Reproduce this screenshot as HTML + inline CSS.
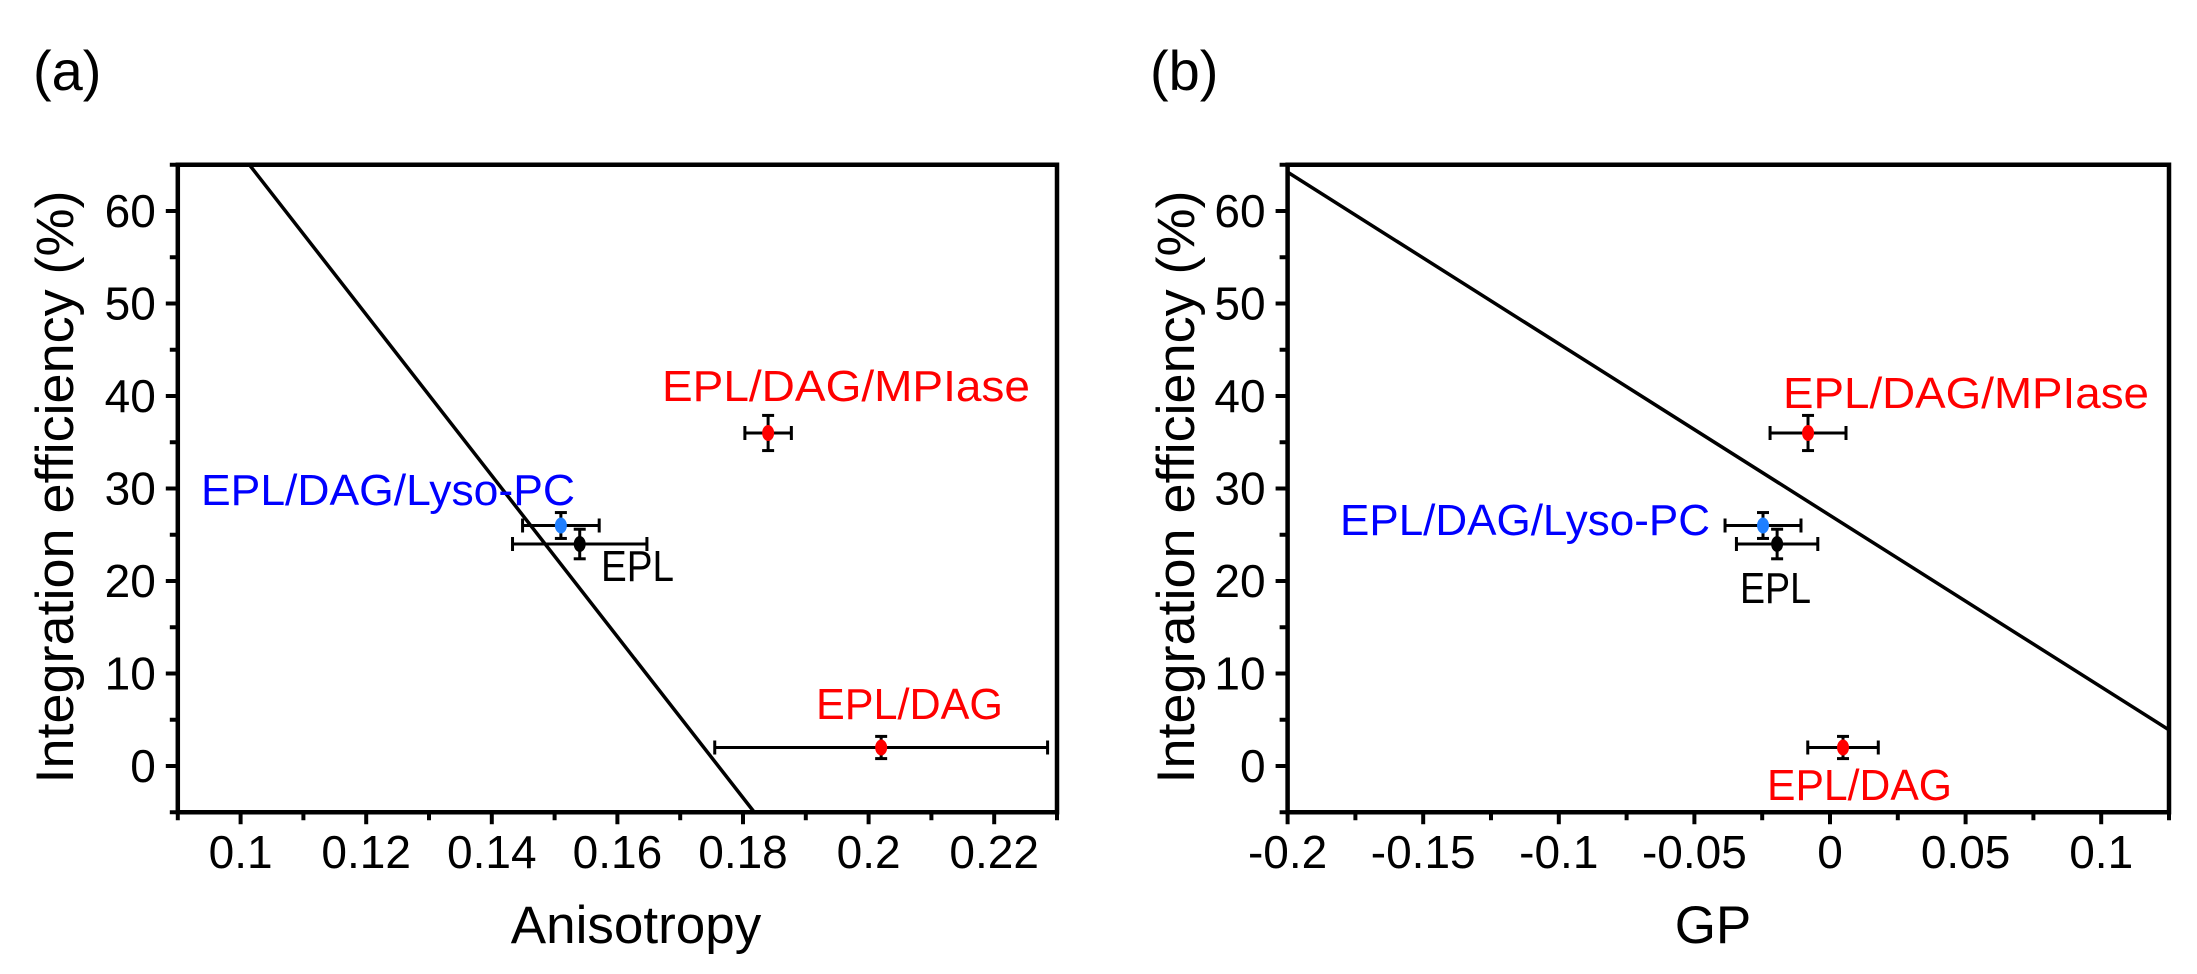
<!DOCTYPE html>
<html><head><meta charset="utf-8"><style>
html,body{margin:0;padding:0;background:#fff;}
svg{display:block;font-family:"Liberation Sans",sans-serif;}
</style></head><body>
<svg id="fig" width="2197" height="974" viewBox="0 0 2197 974" xmlns="http://www.w3.org/2000/svg">
<text x="33" y="90" font-size="56">(a)</text>
<text x="1150" y="90" font-size="56">(b)</text>
<g id="pa"></g>
<g id="pb"></g>
</svg>
<script>
// ---- Panel A data ----
const aNames = ["EPL/DAG/Lyso-PC", "EPL", "EPL/DAG/MPIase", "EPL/DAG"];
const aX = [0.151, 0.154, 0.184, 0.202];
const aY = [26, 24, 36, 2];
const aXerr = [0.0061, 0.0107, 0.0037, 0.0265];
const aYerr = [1.4, 1.6, 1.9, 1.2];
const aColors = ["#1f7fff", "#000000", "#ff0000", "#ff0000"];
const aLineX = [0.1014, 0.1818];
const aLineY = [65, -5];
const aTicks = [0.1, 0.12, 0.14, 0.16, 0.18, 0.2, 0.22];
const aTickLabels = ["0.1", "0.12", "0.14", "0.16", "0.18", "0.2", "0.22"];
const aMinor = [0.09, 0.11, 0.13, 0.15, 0.17, 0.19, 0.21, 0.23];
// ---- Panel B data ----
const bNames = ["EPL/DAG/Lyso-PC", "EPL", "EPL/DAG/MPIase", "EPL/DAG"];
const bX = [-0.0247, -0.0195, -0.0081, 0.0048];
const bY = [26, 24, 36, 2];
const bXerr = [0.014, 0.015, 0.014, 0.013];
const bYerr = [1.4, 1.6, 1.9, 1.2];
const bColors = ["#1f7fff", "#000000", "#ff0000", "#ff0000"];
const bLineX = [-0.2, 0.125];
const bLineY = [64.2, 3.9];
const bTicks = [-0.2, -0.15, -0.1, -0.05, 0, 0.05, 0.1];
const bTickLabels = ["-0.2", "-0.15", "-0.1", "-0.05", "0", "0.05", "0.1"];
const bMinor = [-0.175, -0.125, -0.075, -0.025, 0.025, 0.075, 0.125];
// shared y
const yTicks = [0, 10, 20, 30, 40, 50, 60];
const yTickLabels = ["0", "10", "20", "30", "40", "50", "60"];
const yMinor = [-5, 5, 15, 25, 35, 45, 55, 65];

const NS = "http://www.w3.org/2000/svg";
function mk(parent, tag, attrs, txt){
  const e = document.createElementNS(NS, tag);
  for (const k in attrs) e.setAttribute(k, attrs[k]);
  if (txt !== undefined) e.textContent = txt;
  parent.appendChild(e); return e;
}
const yScale = v => 766 - 9.25 * v;

function panel(g, cfg){
  const xs = cfg.xs, L = xs(cfg.xmin), R = xs(cfg.xmax), T = yScale(65), B = yScale(-5);
  const fr = mk(g, "rect", {x:L, y:T, width:R-L, height:B-T, fill:"none", stroke:"#000", "stroke-width":4.5});
  
  
  yTicks.forEach((v,i)=>{
    const t = mk(g,"line",{x1:L-12,x2:L,y1:yScale(v),y2:yScale(v),stroke:"#000","stroke-width":4});
    
    
    const lb = mk(g,"text",{x:L-22,y:yScale(v)+16,"font-size":46,"text-anchor":"end"}, yTickLabels[i]);
    
    
  });
  yMinor.forEach(v=>{
    const t = mk(g,"line",{x1:L-8,x2:L,y1:yScale(v),y2:yScale(v),stroke:"#000","stroke-width":4});
    
    
  });
  cfg.ticks.forEach((v,i)=>{
    const t = mk(g,"line",{x1:xs(v),x2:xs(v),y1:B,y2:B+12,stroke:"#000","stroke-width":4});
    
    
    const lb = mk(g,"text",{x:xs(v),y:868,"font-size":46,"text-anchor":"middle"}, cfg.tickLabels[i]);
    
    
  });
  cfg.minor.forEach(v=>{
    const t = mk(g,"line",{x1:xs(v),x2:xs(v),y1:B,y2:B+8,stroke:"#000","stroke-width":4});
    
    
  });
  const xt = mk(g,"text",{x:cfg.xTitleX,y:943,"font-size":53,"text-anchor":"middle"}, cfg.xTitle);
  
  
  const yt = mk(g,"text",{x:0,y:0,"font-size":53,"text-anchor":"middle",textLength:593,lengthAdjust:"spacingAndGlyphs",transform:`translate(${cfg.yTitleX},487) rotate(-90)`}, "Integration efficiency (%)");
  
  
  const ln = mk(g,"line",{x1:xs(cfg.lineX[0]),y1:yScale(cfg.lineY[0]),x2:xs(cfg.lineX[1]),y2:yScale(cfg.lineY[1]),stroke:"#000","stroke-width":3.5});
  
  
  cfg.x.forEach((xv,i)=>{
    const cx = xs(xv), cy = yScale(cfg.y[i]);
    const x1 = xs(xv - cfg.xerr[i]), x2 = xs(xv + cfg.xerr[i]);
    const y1 = yScale(cfg.y[i] - cfg.yerr[i]), y2 = yScale(cfg.y[i] + cfg.yerr[i]);
    const eg = mk(g,"g",{stroke:"#000","stroke-width":3});
    
    
    mk(eg,"line",{x1:x1,x2:x2,y1:cy,y2:cy});
    mk(eg,"line",{x1:x1,x2:x1,y1:cy-7,y2:cy+7});
    mk(eg,"line",{x1:x2,x2:x2,y1:cy-7,y2:cy+7});
    mk(eg,"line",{x1:cx,x2:cx,y1:y1,y2:y2});
    mk(eg,"line",{x1:cx-6,x2:cx+6,y1:y1,y2:y1});
    mk(eg,"line",{x1:cx-6,x2:cx+6,y1:y2,y2:y2});
    const c = mk(g,"ellipse",{cx:cx,cy:cy,rx:6,ry:8,fill:cfg.colors[i]});
    
    
  });
  cfg.labels.forEach(l=>{
    const t = mk(g,"text",{x:l[1],y:l[2],"font-size":44,fill:l[4],textLength:l[3],lengthAdjust:"spacingAndGlyphs"}, l[0]);
    
    
  });
}

panel(document.getElementById("pa"), {
  p:"panel-a", xs: v => 240.6 + (v - 0.1) * 6280, xmin:0.09, xmax:0.23,
  ticks:aTicks, tickLabels:aTickLabels, minor:aMinor,
  x:aX, y:aY, xerr:aXerr, yerr:aYerr, colors:aColors, lineX:aLineX, lineY:aLineY,
  xTitle:"Anisotropy", xTitleX:636, yTitleX:73,
  labels:[[aNames[0],201,505,374,"#0000ff"],[aNames[1],601,581,73,"#000"],[aNames[2],662,401,368,"#ff0000"],[aNames[3],816,719,187,"#ff0000"]]
});
panel(document.getElementById("pb"), {
  p:"panel-b", xs: v => 1830 + v * 2712, xmin:-0.2, xmax:0.125,
  ticks:bTicks, tickLabels:bTickLabels, minor:bMinor,
  x:bX, y:bY, xerr:bXerr, yerr:bYerr, colors:bColors, lineX:bLineX, lineY:bLineY,
  xTitle:"GP", xTitleX:1713, yTitleX:1194,
  labels:[[bNames[0],1340,535,370,"#0000ff"],[bNames[1],1740,603,71,"#000"],[bNames[2],1783,408,366,"#ff0000"],[bNames[3],1767,800,185,"#ff0000"]]
});
</script>
</body></html>
